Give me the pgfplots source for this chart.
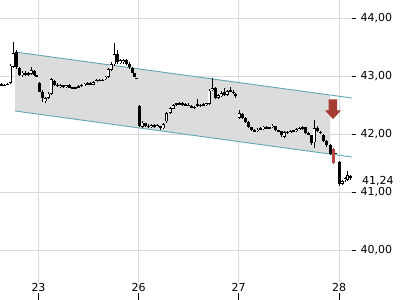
\documentclass[border=0pt]{standalone}
\usepackage{pgfplots}
\pgfplotsset{compat=1.18}
\usepackage{pgfplotstable}
\usepackage{fontspec}
\setmainfont{DejaVu Sans}
\definecolor{gridc}{HTML}{D9D9D9}
\definecolor{chanfill}{HTML}{DCDCDC}
\definecolor{chanline}{HTML}{5FA8B0}
\definecolor{arrowred}{HTML}{A63C34}
\definecolor{candred}{HTML}{B5453D}
\newcommand\tl[1]{\setbox0\hbox{#1}\rlap{\hbox to \wd0{\hss\rule[-9bp]{0.7bp}{7bp}\hss}}\box0}
\pgfplotstableread{
x o h l c
0.01 42.87 42.88 42.83 42.84
0.04 42.84 42.87 42.83 42.85
0.07 42.85 42.88 42.84 42.87
0.10 42.88 43.20 42.87 43.18
0.13 43.16 43.59 43.14 43.40
0.16 43.42 43.45 43.12 43.16
0.19 43.14 43.16 43.00 43.02
0.22 43.02 43.08 42.99 43.06
0.25 43.06 43.08 43.00 43.02
0.28 43.03 43.07 43.01 43.05
0.31 43.04 43.15 43.02 43.10
0.34 43.09 43.10 43.00 43.02
0.365 43.01 43.02 43.00 43.01
0.39 42.88 42.90 42.72 42.73
0.42 42.73 42.76 42.55 42.62
0.45 42.57 42.64 42.53 42.62
0.48 42.62 42.72 42.60 42.70
0.51 42.70 42.97 42.68 42.95
0.54 42.92 42.93 42.83 42.85
0.57 42.85 42.88 42.82 42.84
0.60 42.82 42.86 42.80 42.85
0.63 42.84 42.85 42.80 42.82
0.66 42.81 42.85 42.80 42.84
0.69 42.84 42.86 42.79 42.80
0.72 42.80 42.82 42.77 42.79
0.75 42.79 42.82 42.78 42.81
0.78 42.81 42.84 42.80 42.83
0.81 42.83 42.86 42.82 42.85
0.84 42.84 42.88 42.83 42.87
0.87 42.87 42.89 42.85 42.86
0.90 42.88 42.89 42.84 42.85
0.93 42.85 42.91 42.84 42.90
0.96 42.90 42.95 42.89 42.93
0.99 42.93 42.95 42.91 42.92
1.02 42.92 42.95 42.91 42.94
1.05 42.95 43.00 42.93 42.99
1.08 42.99 43.14 42.97 43.12
1.11 43.10 43.24 43.08 43.20
1.14 43.20 43.57 43.18 43.38
1.17 43.38 43.45 43.20 43.24
1.20 43.22 43.30 43.20 43.27
1.23 43.24 43.29 43.20 43.27
1.26 43.27 43.29 43.19 43.21
1.29 43.21 43.24 43.13 43.15
1.32 43.14 43.15 43.05 43.06
1.345 43.05 43.06 42.98 42.99
1.365 42.96 42.97 42.95 42.96
1.39 42.49 42.50 42.12 42.14
1.42 42.13 42.22 42.11 42.20
1.45 42.19 42.20 42.12 42.15
1.48 42.15 42.18 42.10 42.13
1.51 42.12 42.17 42.10 42.16
1.54 42.16 42.18 42.11 42.13
1.57 42.13 42.18 42.12 42.16
1.60 42.14 42.15 42.08 42.10
1.63 42.10 42.19 42.09 42.17
1.665 42.22 42.39 42.20 42.37
1.70 42.37 42.46 42.35 42.45
1.73 42.44 42.52 42.43 42.50
1.76 42.51 42.54 42.49 42.53
1.79 42.53 42.55 42.50 42.52
1.82 42.54 42.56 42.48 42.50
1.85 42.50 42.53 42.49 42.51
1.88 42.51 42.53 42.48 42.49
1.91 42.49 42.50 42.45 42.46
1.94 42.46 42.48 42.44 42.47
1.97 42.52 42.60 42.47 42.49
2.00 42.49 42.52 42.47 42.50
2.03 42.50 42.53 42.48 42.51
2.06 42.50 42.54 42.49 42.53
2.09 42.52 42.77 42.50 42.75
2.12 42.76 42.97 42.74 42.80
2.15 42.80 42.82 42.60 42.62
2.18 42.62 42.70 42.60 42.68
2.21 42.65 42.74 42.64 42.71
2.24 42.73 42.80 42.66 42.68
2.27 42.68 42.76 42.66 42.74
2.30 42.76 42.81 42.72 42.73
2.33 42.73 42.76 42.70 42.72
2.355 42.70 42.71 42.63 42.65
2.39 42.28 42.42 42.26 42.36
2.42 42.35 42.37 42.27 42.28
2.45 42.28 42.30 42.19 42.21
2.48 42.21 42.22 42.10 42.12
2.51 42.12 42.13 42.06 42.07
2.54 42.07 42.09 42.04 42.05
2.57 42.05 42.10 42.03 42.08
2.60 42.09 42.12 42.07 42.10
2.63 42.10 42.15 42.08 42.13
2.66 42.12 42.14 42.09 42.11
2.69 42.11 42.13 42.09 42.12
2.72 42.12 42.17 42.11 42.15
2.75 42.14 42.15 42.05 42.07
2.78 42.07 42.08 42.03 42.05
2.81 42.05 42.06 41.96 41.98
2.84 41.96 42.05 41.94 42.03
2.87 42.03 42.05 42.01 42.04
2.90 42.03 42.07 42.02 42.06
2.93 42.05 42.07 42.03 42.06
2.96 42.06 42.11 42.04 42.09
2.99 42.08 42.12 42.07 42.11
3.02 42.11 42.15 42.08 42.12
3.05 42.12 42.13 42.00 42.02
3.08 42.02 42.04 41.98 41.99
3.11 41.98 41.99 41.82 41.85
3.14 41.86 42.24 41.76 42.10
3.17 42.11 42.15 42.03 42.05
3.20 42.04 42.06 42.00 42.02
3.23 41.99 42.01 41.86 41.88
3.26 41.88 41.90 41.78 41.81
3.30 41.82 41.83 41.64 41.66
3.355 41.67 41.68 41.66 41.67
3.395 41.53 41.54 41.11 41.14
3.42 41.15 41.22 41.13 41.20
3.45 41.21 41.27 41.18 41.25
3.475 41.22 41.36 41.20 41.29
3.50 41.28 41.30 41.22 41.24
}\candles
\pgfplotstableread{
x o h l c
3.33 41.74 41.76 41.49 41.50
}\redcandle
\begin{document}
\begin{tikzpicture}
\useasboundingbox (0,0) rectangle (400bp,300bp);
\begin{axis}[
  at={(0,18bp)}, anchor=south west,
  scale only axis, width=352bp, height=282bp,
  xmin=0, xmax=3.52, ymin=39.458, ymax=44.31,
  axis line style={draw=none},
  clip=true,
  grid=major, grid style={gridc, line width=0.8bp},
  xtick={0.385,1.385,2.385,3.39},
  xticklabels={{\tl{23}},{\tl{26}},{\tl{27}},{\tl{28}}},
  x tick style={draw=none},
  xticklabel style={font=\fontsize{11bp}{13bp}\selectfont, anchor=north, yshift=6.5bp},
  ytick={40,41,42,43,44},
  ytick pos=right, yticklabel pos=right,
  tick align=outside, major tick length=4bp,
  y tick style={black, line width=0.8bp},
  yticklabel style={font=\fontsize{11bp}{13bp}\selectfont, anchor=west, xshift=1bp,
    /pgf/number format/.cd, fixed, fixed zerofill, precision=2, use comma},
  /pgf/number format/assume math mode=true,
]
% channel fill
\addplot[fill=chanfill, draw=none, forget plot] coordinates {(0.15,43.415) (3.30,42.675) (3.30,41.659) (0.15,42.40)};
\addplot[chanline, line width=0.9bp, forget plot] coordinates {(0.15,43.415) (3.52,42.623)};
\addplot[chanline, line width=0.9bp, forget plot] coordinates {(0.15,42.40) (3.52,41.607)};
% wicks
\addplot[draw=none, mark=none, forget plot, error bars/.cd, y dir=plus, y explicit, error mark=none,
  error bar style={draw=black, line width=0.9bp}]
  table[x=x, y=l, y error expr=\thisrow{h}-\thisrow{l}] {\candles};
% bodies
\addplot[draw=none, mark=none, forget plot, error bars/.cd, y dir=both, y explicit, error mark=none,
  error bar style={draw=black, line width=3bp}]
  table[x=x, y expr={(\thisrow{o}+\thisrow{c})/2}, y error expr={max(abs(\thisrow{o}-\thisrow{c})/2,0.01)}] {\candles};
% hollow insides of rising candles
\addplot[draw=none, mark=none, forget plot, error bars/.cd, y dir=both, y explicit, error mark=none,
  error bar style={draw=white, line width=1.3bp}]
  table[x=x, y expr={\thisrow{c}>\thisrow{o} ? (\thisrow{o}+\thisrow{c})/2 : 0}, y error expr={max(abs(\thisrow{c}-\thisrow{o})/2-0.014,0)}] {\candles};
% red candle
\addplot[draw=none, mark=none, forget plot, error bars/.cd, y dir=plus, y explicit, error mark=none,
  error bar style={draw=candred, line width=0.9bp}]
  table[x=x, y=l, y error expr=\thisrow{h}-\thisrow{l}] {\redcandle};
\addplot[draw=none, mark=none, forget plot, error bars/.cd, y dir=both, y explicit, error mark=none,
  error bar style={draw=candred, line width=3bp}]
  table[x=x, y expr={(\thisrow{o}+\thisrow{c})/2}, y error expr={abs(\thisrow{o}-\thisrow{c})/2}] {\redcandle};
% arrow
\fill[arrowred] (axis cs:3.285,42.60) -- (axis cs:3.37,42.60) -- (axis cs:3.37,42.41) -- (axis cs:3.41,42.41)
  -- (axis cs:3.33,42.26) -- (axis cs:3.25,42.41) -- (axis cs:3.285,42.41) -- cycle;
\end{axis}
\node[anchor=west, font=\fontsize{11bp}{13bp}\selectfont, inner sep=0pt] at (362bp,{300bp-181.5bp}) {41,24};
\end{tikzpicture}
\end{document}
